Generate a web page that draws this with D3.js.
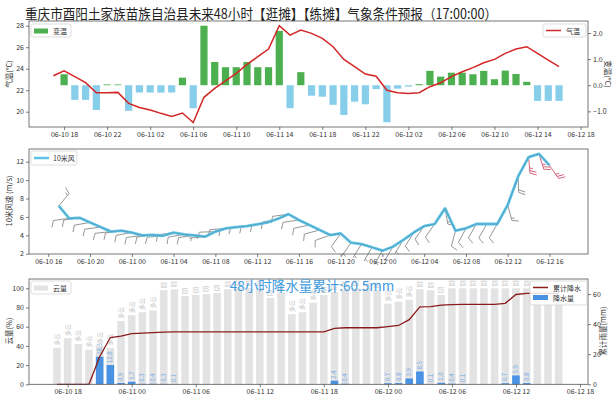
<!DOCTYPE html>
<html><head><meta charset="utf-8">
<script src="https://cdn.jsdelivr.net/npm/d3@7"></script>
<style>body{margin:0;background:#fff}svg{display:block}text{font-family:"Noto Sans CJK SC","DejaVu Sans",sans-serif}</style>
</head><body><svg id="c" width="613" height="400"></svg>
<script>
const times = ["06-10 17","06-10 18","06-10 19","06-10 20","06-10 21","06-10 22","06-10 23",
"06-11 00","06-11 01","06-11 02","06-11 03","06-11 04","06-11 05","06-11 06","06-11 07","06-11 08","06-11 09","06-11 10","06-11 11","06-11 12",
"06-11 13","06-11 14","06-11 15","06-11 16","06-11 17","06-11 18","06-11 19","06-11 20","06-11 21","06-11 22","06-11 23",
"06-12 00","06-12 01","06-12 02","06-12 03","06-12 04","06-12 05","06-12 06","06-12 07","06-12 08","06-12 09","06-12 10","06-12 11","06-12 12",
"06-12 13","06-12 14","06-12 15","06-12 16"];
const temperature = [23.35,23.81,23.26,22.7,21.77,21.77,21.8,
20.78,20.4,20.16,19.85,19.57,19.88,19.0,21.34,22.17,22.86,23.57,24.4,25.12,25.83,28.0,27.13,27.6,27.29,26.83,26.05,24.87,24.19,23.5,23.3,
22.0,21.77,21.7,21.77,22.33,22.7,23.26,23.72,24.1,24.56,24.87,25.43,25.83,26.05,25.43,24.81,24.19];
const tempChange = [null,0.42,-0.56,-0.56,-0.95,0.03,0.03,
-0.98,-0.28,-0.28,-0.28,-0.28,0.29,-0.88,2.28,0.89,0.69,0.69,0.89,0.69,0.69,2.08,-0.88,0.5,-0.40,-0.44,-0.75,-1.14,-0.63,-0.73,-0.15,
-1.42,-0.13,-0.05,0.04,0.55,0.33,0.48,0.48,0.42,0.55,0.23,0.56,0.43,0.13,-0.6,-0.6,-0.6];
const windSpeed = [7.2,5.85,5.9,5.4,4.9,4.4,4.5,
4.3,4.0,4.05,3.95,4.3,4.1,4.0,3.85,4.4,4.75,4.9,5.0,5.2,5.4,5.8,6.3,5.66,5.12,4.58,4.03,4.2,3.2,3.05,2.7,
2.33,2.76,3.5,4.3,5.0,5.23,6.93,4.5,4.76,5.23,5.23,5.23,7.3,10.4,12.5,12.85,11.6];
const windDir = [40,262,262,260,262,264,262,
260,262,262,265,262,260,262,265,268,265,262,265,262,260,258,262,262,258,255,250,215,215,212,210,
210,210,212,212,215,215,170,195,208,210,210,210,165,178,175,163,145];
const cloudCover = [38,48,42,36,40,38,66,
72,75,77,98,99,92,93,94,95,99,100,100,100,90,96,73,75,85,93,96,99,100,100,98,
84,86,88,99,98,93,100,100,100,100,100,100,100,100,98,98,98];
const rainfall = [0,0,0,0,18.3,12.8,0.9,
1.7,0.3,0.4,0.3,0.1,0,0,0,0,0,0,0,0,0,0,0,0,0,0,2.4,0.4,0,0,0,
0.7,0.8,3.9,8.5,0.1,1.0,0.4,0.1,0,0,0,0.7,5.9,0.8,0,0,0];
const rainCumulative = [0,0,0,0,18.3,31.1,32.0,
33.7,34.0,34.4,34.7,34.8,34.8,34.8,34.8,34.8,34.8,34.8,34.8,34.8,34.8,34.8,34.8,34.8,34.8,34.8,37.2,37.6,37.6,37.6,37.6,
38.3,39.1,43.0,51.5,51.6,52.6,53.0,53.1,53.1,53.1,53.1,53.8,59.7,60.5,60.5,60.5,60.5];
const tempTicks = [20,22,24,26,28];
const changeTicks = [-1,0,1,2];
const windTicks = [2,4,6,8,10,12];
const cloudTicks = [0,20,40,60,80,100];
const rainTicks = [0,20,40,60];
const tempXTicks = ["06-10 18","06-10 22","06-11 02","06-11 06","06-11 10","06-11 14","06-11 18","06-11 22","06-12 02","06-12 06","06-12 10","06-12 14","06-12 18"];
const windXTicks = ["06-10 16","06-10 20","06-11 00","06-11 04","06-11 08","06-11 12","06-11 16","06-11 20","06-12 00","06-12 04","06-12 08","06-12 12","06-12 16"];
const rainXTicks = ["06-10 18","06-11 00","06-11 06","06-11 12","06-11 18","06-12 00","06-12 06","06-12 12","06-12 18"];
const title = "重庆市酉阳土家族苗族自治县未来48小时【逛摊】【练摊】气象条件预报（17:00:00）";
const totalText = "48小时降水量累计:60.5mm";

const FONT = '"Noto Sans CJK SC","DejaVu Sans",sans-serif';
const parse = s => { const [md, hh] = s.split(" "); return (+md.split("-")[1] - 10) * 24 + (+hh); };
const fmt = h => `06-${10 + Math.floor(h / 24)} ${String(h % 24).padStart(2, "0")}`;
const hours = times.map(parse);
const svg = d3.select("#c");
const L = 29, R = 588;

function styleAxis(g) {
  g.attr("font-family", FONT).attr("font-size", 7);
  g.select(".domain").remove();
  g.selectAll(".tick line").attr("stroke", "#444").attr("stroke-width", 0.7);
  g.selectAll(".tick text").attr("fill", "#333");
}
function box(top, bot) {
  svg.append("rect").attr("x", L).attr("y", top).attr("width", R - L).attr("height", bot - top)
    .attr("fill", "none").attr("stroke", "#555").attr("stroke-width", 0.8);
}
function ylabel(x, y, rot, txt) {
  svg.append("text").attr("transform", `translate(${x},${y}) rotate(${rot})`).attr("text-anchor", "middle")
    .attr("font-size", 7.5).attr("fill", "#333").text(txt);
}
function legendBox(x, y, w, h) {
  svg.append("rect").attr("x", x).attr("y", y).attr("width", w).attr("height", h).attr("rx", 2)
    .attr("fill", "#fff").attr("fill-opacity", 0.85).attr("stroke", "#d0d0d0").attr("stroke-width", 0.7);
}

// Title
svg.append("text").attr("x", 261).attr("y", 19).attr("text-anchor", "middle").attr("font-size", 14)
  .attr("fill", "#222").attr("textLength", 472).attr("lengthAdjust", "spacingAndGlyphs").text(title);

// ---------- Panel 1 ----------
const T1 = 21, B1 = 127;
const x1 = d3.scaleLinear().domain([14.74, 66.69]).range([L, R]);
const yT = d3.scaleLinear().domain([18.58, 28.44]).range([B1, T1]);
const yC = d3.scaleLinear().domain([-1.60, 2.46]).range([B1, T1]);
const p1 = svg.append("g");
p1.selectAll("rect.chg").data(hours.map((h, i) => ({ h, v: tempChange[i] })).filter(d => d.v !== null))
  .enter().append("rect").attr("x", d => x1(d.h) - 3.6).attr("width", 7.2)
  .attr("y", d => yC(Math.max(0, d.v))).attr("height", d => Math.abs(yC(d.v) - yC(0)))
  .attr("fill", d => d.v >= 0 ? "#4caf50" : "#87ceeb");
p1.append("path").datum(hours.map((h, i) => [h, temperature[i]]))
  .attr("d", d3.line().x(d => x1(d[0])).y(d => yT(d[1]))).attr("fill", "none").attr("stroke", "#d32626").attr("stroke-width", 1.5);
box(T1, B1);
svg.append("g").attr("transform", `translate(0,${B1})`)
  .call(d3.axisBottom(x1).tickValues(tempXTicks.map(parse)).tickFormat(fmt).tickSize(3).tickPadding(2)).call(styleAxis);
svg.append("g").attr("transform", `translate(${L},0)`)
  .call(d3.axisLeft(yT).tickValues(tempTicks).tickSize(3).tickPadding(2)).call(styleAxis);
svg.append("g").attr("transform", `translate(${R},0)`)
  .call(d3.axisRight(yC).tickValues(changeTicks).tickSize(3).tickPadding(2)).call(styleAxis);
ylabel(12, 74, -90, "气温(°C)");
ylabel(605, 74, 90, "变温(°C)");
legendBox(31, 24, 40, 13);
svg.append("rect").attr("x", 34).attr("y", 28.5).attr("width", 14).attr("height", 5).attr("fill", "#4caf50");
svg.append("text").attr("x", 53).attr("y", 33.5).attr("font-size", 7).attr("fill", "#333").text("变温");
legendBox(543, 24, 43, 13);
svg.append("line").attr("x1", 546).attr("x2", 561).attr("y1", 30.5).attr("y2", 30.5).attr("stroke", "#d32626").attr("stroke-width", 1.5);
svg.append("text").attr("x", 566).attr("y", 33.5).attr("font-size", 7).attr("fill", "#333").text("气温");

// ---------- Panel 2 ----------
const T2 = 149, B2 = 254;
const x2 = d3.scaleLinear().domain([14.15, 67.69]).range([L, R]);
const yW = d3.scaleLinear().domain([1.97, 13.38]).range([B2, T2]);
const p2 = svg.append("g");
function barb(x, y, spd, dir, color) {
  const t = dir * Math.PI / 180, ux = Math.sin(t), uy = -Math.cos(t);
  const len = 16, fl = 7, sp = 2.6;
  const ex = x + ux * len, ey = y + uy * len, px = uy, py = -ux;
  let d = `M${x},${y}L${ex},${ey}`;
  let kt = Math.round(spd * 1.94384 / 5) * 5;
  const full = Math.floor(kt / 10), half = (kt % 10) >= 5 ? 1 : 0;
  let pos = 0;
  for (let k = 0; k < full; k++) {
    const bx = ex - ux * pos, by = ey - uy * pos;
    d += `M${bx},${by}L${bx + fl * (px * 0.93 + ux * 0.35)},${by + fl * (py * 0.93 + uy * 0.35)}`;
    pos += sp;
  }
  if (half) {
    if (full === 0) pos = sp;
    const bx = ex - ux * pos, by = ey - uy * pos;
    d += `M${bx},${by}L${bx + fl * 0.5 * (px * 0.93 + ux * 0.35)},${by + fl * 0.5 * (py * 0.93 + uy * 0.35)}`;
  }
  p2.append("path").attr("d", d).attr("fill", "none").attr("stroke", color).attr("stroke-width", 0.9);
}
hours.forEach((h, i) => barb(x2(h), yW(windSpeed[i]), windSpeed[i], windDir[i], windSpeed[i] >= 10.8 ? "#d6546e" : "#8a8a8a"));
const wline = d3.line().x(d => x2(d[0])).y(d => yW(d[1]));
const wdata = hours.map((h, i) => [h, windSpeed[i]]);
p2.append("path").datum(wdata).attr("d", wline).attr("fill", "none").attr("stroke", "#5ec3e6").attr("stroke-width", 2.8).attr("stroke-linejoin", "round");
p2.append("path").datum(wdata).attr("d", wline).attr("fill", "none").attr("stroke", "#4d8aa6").attr("stroke-width", 0.7).attr("opacity", 0.8);
box(T2, B2);
svg.append("g").attr("transform", `translate(0,${B2})`)
  .call(d3.axisBottom(x2).tickValues(windXTicks.map(parse)).tickFormat(fmt).tickSize(3).tickPadding(2)).call(styleAxis);
svg.append("g").attr("transform", `translate(${L},0)`)
  .call(d3.axisLeft(yW).tickValues(windTicks).tickSize(3).tickPadding(2)).call(styleAxis);
ylabel(12, 201, -90, "10米风速 (m/s)");
legendBox(31, 151, 46, 14);
svg.append("line").attr("x1", 34).attr("x2", 49).attr("y1", 158).attr("y2", 158).attr("stroke", "#5ec3e6").attr("stroke-width", 2.5);
svg.append("text").attr("x", 53).attr("y", 161).attr("font-size", 7).attr("fill", "#333").text("10米风");

// ---------- Panel 3 ----------
const T3 = 279, B3 = 384.3;
const x3 = d3.scaleLinear().domain([14.38, 66.75]).range([L, R]);
const yCl = d3.scaleLinear().domain([0, 109.7]).range([B3, T3]);
const yR = d3.scaleLinear().domain([0, 70]).range([B3, T3]);
const p3 = svg.append("g");
p3.selectAll("rect.cl").data(hours.map((h, i) => ({ h, v: cloudCover[i] }))).enter().append("rect")
  .attr("x", d => x3(d.h) - 3.8).attr("width", 7.6).attr("y", d => yCl(d.v)).attr("height", d => B3 - yCl(d.v)).attr("fill", "#e3e3e3");
p3.selectAll("text.cl").data(hours.map((h, i) => ({ h, v: cloudCover[i] }))).enter().append("text")
  .attr("transform", d => `translate(${x3(d.h) + 2},${yCl(d.v) - 2}) rotate(-90)`)
  .attr("font-size", 6).attr("fill", "#c4c4c4").text(d => d.v >= 90 ? "阴" : "多云");
const rdata = hours.map((h, i) => ({ h, v: rainfall[i] })).filter(d => d.v > 0);
p3.selectAll("rect.rn").data(rdata).enter().append("rect")
  .attr("x", d => x3(d.h) - 3.8).attr("width", 7.6).attr("y", d => yR(d.v)).attr("height", d => B3 - yR(d.v)).attr("fill", "#4a93e4");
p3.selectAll("text.rn").data(rdata).enter().append("text")
  .attr("transform", d => `translate(${x3(d.h) + 2},${yR(d.v) - 2}) rotate(-90)`)
  .attr("font-size", 6).attr("fill", "#6fa9e6").text(d => d.v.toFixed(1));
p3.append("path").datum(hours.map((h, i) => [h, rainCumulative[i]]))
  .attr("d", d3.line().x(d => x3(d[0])).y(d => yR(d[1]))).attr("fill", "none").attr("stroke", "#8b1c1c").attr("stroke-width", 1.3);
box(T3, B3);
svg.append("g").attr("transform", `translate(0,${B3})`)
  .call(d3.axisBottom(x3).tickValues(rainXTicks.map(parse)).tickFormat(fmt).tickSize(3).tickPadding(2)).call(styleAxis);
svg.append("g").attr("transform", `translate(${L},0)`)
  .call(d3.axisLeft(yCl).tickValues(cloudTicks).tickSize(3).tickPadding(2)).call(styleAxis);
svg.append("g").attr("transform", `translate(${R},0)`)
  .call(d3.axisRight(yR).tickValues(rainTicks).tickSize(3).tickPadding(2)).call(styleAxis);
ylabel(12, 331, -90, "云量(%)");
ylabel(606, 331, -90, "累计雨量(mm)");
svg.append("text").attr("x", 312).attr("y", 291).attr("text-anchor", "middle").attr("font-size", 13.5)
  .attr("fill", "#3d9be0").text(totalText);
legendBox(31, 281, 40, 13);
svg.append("rect").attr("x", 34).attr("y", 285.5).attr("width", 14).attr("height", 5).attr("fill", "#e3e3e3");
svg.append("text").attr("x", 53).attr("y", 290.5).attr("font-size", 7).attr("fill", "#333").text("云量");
legendBox(530, 281, 57, 24);
svg.append("line").attr("x1", 533).attr("x2", 548).attr("y1", 287.5).attr("y2", 287.5).attr("stroke", "#8b1c1c").attr("stroke-width", 1.5);
svg.append("text").attr("x", 553).attr("y", 290.5).attr("font-size", 7).attr("fill", "#333").text("累计降水");
svg.append("rect").attr("x", 533).attr("y", 295).attr("width", 15).attr("height", 5).attr("fill", "#4a93e4");
svg.append("text").attr("x", 553).attr("y", 300.5).attr("font-size", 7).attr("fill", "#333").text("降水量");
</script></body></html>
